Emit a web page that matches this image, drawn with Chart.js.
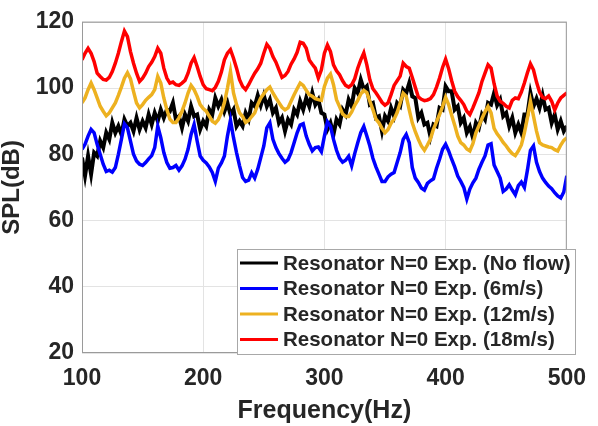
<!DOCTYPE html>
<html lang="en">
<head>
    <meta charset="UTF-8">
    <title>SPL vs Frequency</title>
    <script src="https://cdn.jsdelivr.net/npm/chart.js"></script>
    <style>
        body {
            margin: 0;
            background-color: #ffffff;
        }
    </style>
</head>
<body>
    <canvas id="myChart" width="598" height="426"></canvas>
    <script>
        // frequency grid (Hz)
        var freqHz = [
            100, 102.5, 105, 107.5, 110, 112.5, 115, 117.5, 120, 122.5,
            125, 127.5, 130, 132.5, 135, 137.5, 140, 142.5, 145, 147.5,
            150, 152.5, 155, 157.5, 160, 162.5, 165, 167.5, 170, 172.5,
            175, 177.5, 180, 182.5, 185, 187.5, 190, 192.5, 195, 197.5,
            200, 202.5, 205, 207.5, 210, 212.5, 215, 217.5, 220, 222.5,
            225, 227.5, 230, 232.5, 235, 237.5, 240, 242.5, 245, 247.5,
            250, 252.5, 255, 257.5, 260, 262.5, 265, 267.5, 270, 272.5,
            275, 277.5, 280, 282.5, 285, 287.5, 290, 292.5, 295, 297.5,
            300, 302.5, 305, 307.5, 310, 312.5, 315, 317.5, 320, 322.5,
            325, 327.5, 330, 332.5, 335, 337.5, 340, 342.5, 345, 347.5,
            350, 352.5, 355, 357.5, 360, 362.5, 365, 367.5, 370, 372.5,
            375, 377.5, 380, 382.5, 385, 387.5, 390, 392.5, 395, 397.5,
            400, 402.5, 405, 407.5, 410, 412.5, 415, 417.5, 420, 422.5,
            425, 427.5, 430, 432.5, 435, 437.5, 440, 442.5, 445, 447.5,
            450, 452.5, 455, 457.5, 460, 462.5, 465, 467.5, 470, 472.5,
            475, 477.5, 480, 482.5, 485, 487.5, 490, 492.5, 495, 497.5,
            500
        ];

        // No flow (noisy trace)
        var splNoFlow = [
            79, 73.5, 79.5, 74, 80.5, 79.5, 84, 82, 86.5, 84.5,
            89.5, 86.5, 88.5, 86, 90.5, 88.5, 89.5, 87, 91, 87.5,
            90, 88, 92, 89, 92.5, 90, 93.5, 91, 93.5, 93,
            95.5, 90.5, 91.5, 88, 92, 90, 94.5, 91.5, 92, 87.5,
            90, 88.5, 93.5, 92, 97, 94.5, 96.5, 93, 95.5, 92,
            93.5, 88.5, 90, 88.5, 92.5, 90.5, 95.5, 94.5, 97.8, 94.8,
            97.8, 94.5, 96.5, 92.5, 94, 89.5, 91, 87, 90.5, 89,
            93.5, 92, 96, 93.5, 97, 94.5, 98.5, 95, 96.5, 92.5,
            92, 87.5, 89.5, 86, 90.5, 89, 93.5, 92, 96.5, 94.5,
            100, 98.5, 102.5, 99.5, 100.5, 95, 95.5, 91, 91.5, 87,
            91.5, 90, 94, 91.5, 95.5, 94.5, 99.5, 98.5, 101.5, 97.5,
            97, 91, 92.5, 89, 89.5, 85.3, 89, 88.5, 94, 93.5,
            100.5, 99, 99, 93.5, 94.5, 89.5, 91, 86.5, 88.3, 85,
            89.5, 88, 92, 90.5, 95.5, 95, 98.5, 94.8, 96.5, 91.5,
            92.5, 88.5, 91, 86.5, 89, 86.5, 92, 92, 98.5, 94.5,
            96.8, 94, 97.8, 93.5, 94, 89.5, 92, 87.5, 90, 87,
            88.5
        ];

        // 6 m/s
        var spl6 = [
            81.5, 83, 85.5, 87.5, 86.5, 83, 80, 77, 74.8, 75.2,
            74.6, 76, 80, 84.5, 89.2, 88, 84, 80, 78, 77,
            76.6, 77.5, 78.6, 79.6, 82, 88.5, 85, 80.5, 77.5, 75.8,
            76, 76.6, 75.2, 76.5, 78.5, 81.5, 86, 89, 84, 79.5,
            78.2, 77.4, 76.2, 74.5, 71.8, 75.8, 77.4, 79.5, 85.5, 90.3,
            85, 80.5, 76.5, 73, 71.8, 72.2, 74.4, 72.8, 75.5, 79,
            82.5, 88, 89.5, 84.5, 82, 80.2, 78.8, 77.6, 78.4, 80.5,
            83.5, 86.5, 88.8, 89.2, 85.5, 83, 81, 82, 82.2, 80.8,
            85.5, 89.8, 88.5, 84.5, 81.2, 78.8, 77.6, 78.2, 79.4, 76.5,
            80.2, 83.5, 86.5, 88.4, 85.5, 82.5, 78.8, 76.2, 74, 71.8,
            71.8, 73.2, 74, 74.5, 77.5, 80.5, 84.5, 86, 83.5, 76,
            72.8, 71.5, 69.8, 69.2, 71.2, 72, 72.6, 75.8, 78.5, 81.5,
            83, 81, 78.5, 76.2, 73.4, 71.8, 70, 66.5, 69.5, 71.4,
            72.8, 75.5, 77.6, 79.5, 82.8, 83.2, 76.8, 74.8, 72.8, 68.8,
            69.5, 70.8, 69.2, 67.8, 70.5, 71.6, 70, 75.2, 81.2, 82.5,
            77.6, 74.8, 72.8, 71.5, 70.4, 69.6, 68.4, 67.4, 66.8, 68.6,
            73.5
        ];

        // 12 m/s
        var spl12 = [
            95.5, 97, 99.5, 101.5, 99.5, 97, 94.5, 93, 91.6, 92.5,
            94, 95.5, 97.8, 100.3, 103, 104.6, 102.8, 99, 95.5, 94,
            95, 96.3, 97.2, 98, 99.5, 103.5, 101.5, 97, 93.5, 90.6,
            89.6, 89.6, 91, 93, 95.5, 98.5, 100.8, 99.5, 97.5, 95,
            93.8, 93, 91.5, 90, 89.4, 90.5, 92.6, 95.6, 100, 105,
            98.5, 95, 92.5, 91.4, 89.6, 90.2, 91.4, 92.5, 95, 97,
            98.3, 99.5, 100.3, 98.5, 97, 95.6, 94.2, 93.4, 94, 96,
            98, 99.8, 101.5, 100.8, 99.3, 98, 97.5, 96.8, 96.5, 96.3,
            100.5, 103, 104.2, 101, 96.5, 94.4, 92.2, 91.4, 91.4, 92.8,
            94.8, 96.3, 98.2, 99.3, 98.6, 96, 93.5, 90.6, 89.5, 87.8,
            86.5, 87.5, 89.4, 90.6, 92.6, 95.5, 98.4, 97.5, 93.4, 89.5,
            86.8, 84.5, 82.5, 81.2, 82.8, 84.6, 87.6, 89.8, 92, 94.4,
            97.2, 95, 91.8, 88.8, 85.5, 83.5, 82.8, 81.6, 81, 83.2,
            86.5, 88.6, 90.8, 92.8, 94.4, 92.5, 87.8, 86.2, 85, 83.6,
            82.5, 81.2, 80.2, 79.6, 81, 82.8, 86.5, 91, 96, 91.5,
            87, 83.5, 82.8, 82.5, 82.2, 82, 81.4, 81, 82.8, 84.2,
            85
        ];

        // 18 m/s
        var spl18 = [
            108.5, 110.5, 112, 110.5, 108, 104.5, 103.5, 102.6, 102.4, 103.2,
            105, 107.5, 110.5, 114, 117.2, 115.5, 111, 107.5, 104.5, 102,
            103, 104.5, 106.5, 107.8, 109.5, 112, 110.5, 106, 103, 101.5,
            101.8, 101, 100.8, 101.5, 102.3, 104.5, 107.5, 109.2, 106.5, 103.5,
            101, 99.8, 99.5, 99.2, 100.2, 102, 104.8, 108.5, 110.5, 111.6,
            109, 106, 102.5, 100.5, 99.5, 101, 102.8, 104.5, 105.8, 107.5,
            110.5, 113.2, 112, 109.5, 107.8, 105.5, 103.2, 103.8, 105, 107.2,
            108.8, 110.8, 113.8, 113.5, 112, 108.5, 107.2, 106, 103, 105.5,
            110.5, 113, 111, 107, 105.2, 104, 102.2, 100.8, 100.3, 101,
            102.8, 106, 108.5, 110.6, 107, 102.5, 99.8, 98.6, 97.2, 95.7,
            94.8, 95.5, 98, 100.8, 102.2, 103.6, 107.5, 106.5, 106, 103.2,
            100.2, 97.3, 96.6, 96.2, 96.4, 96.8, 98, 100.3, 103, 106.2,
            108.7, 105.8, 102.2, 99, 97.4, 96.3, 95, 93, 92, 94,
            96.3, 98.6, 102, 104.5, 107, 106, 101.3, 97.6, 96, 95.4,
            94.5, 94, 96.3, 97, 96.8, 98.8, 101.5, 104.6, 107.3, 105.5,
            101.8, 98.8, 97.2, 96.8, 97.6, 96, 93.4, 95.5, 97, 97.8,
            98.5
        ];

        var seriesLabels = [
            'Resonator N=0 Exp. (No flow)',
            'Resonator N=0 Exp. (6m/s)',
            'Resonator N=0 Exp. (12m/s)',
            'Resonator N=0 Exp. (18m/s)'
        ];
        var seriesColors = ['#000000', '#0000ff', '#edb120', '#ff0000'];
        var seriesValues = [splNoFlow, spl6, spl12, spl18];

        var xTicks = [100, 200, 300, 400, 500];
        var yTicks = [20, 40, 60, 80, 100, 120];

        var fontFam = '"Liberation Sans", Arial, Helvetica, sans-serif';
        var textColor = '#262626';

        function toPoints(vals) {
            return freqHz.map(function (f, i) { return { x: f, y: vals[i] }; });
        }

        // legend box inside the axes + box frame (MATLAB style)
        var boxLegend = {
            id: 'boxLegend',
            afterDatasetsDraw: function (chart) {
                var ctx = chart.ctx;
                var a = chart.chartArea;
                ctx.save();
                ctx.strokeStyle = '#9a9a9a';
                ctx.lineWidth = 1;
                ctx.strokeRect(a.left + 0.5, a.top + 0.5, a.right - a.left - 1, a.bottom - a.top - 1);

                // legend
                var lx = 237, ly = 249, lw = 339, lh = 106;
                ctx.fillStyle = '#ffffff';
                ctx.fillRect(lx, ly, lw, lh);
                ctx.strokeStyle = '#a8a8a8';
                ctx.strokeRect(lx + 0.5, ly + 0.5, lw - 1, lh - 1);

                ctx.font = 'bold 20.5px ' + fontFam;
                ctx.textBaseline = 'middle';
                ctx.textAlign = 'left';
                for (var i = 0; i < seriesLabels.length; i++) {
                    var yy = 263 + i * 25.5;
                    ctx.strokeStyle = seriesColors[i];
                    ctx.lineWidth = 3;
                    ctx.beginPath();
                    ctx.moveTo(lx + 3, yy);
                    ctx.lineTo(lx + 41, yy);
                    ctx.stroke();
                    ctx.fillStyle = textColor;
                    ctx.fillText(seriesLabels[i], lx + 46, yy + 1);
                }
                ctx.restore();
            }
        };

        var ctx = document.getElementById('myChart').getContext('2d');
        var myChart = new Chart(ctx, {
            type: 'line',
            data: {
                datasets: seriesLabels.map(function (lab, i) {
                    return {
                        label: lab,
                        data: toPoints(seriesValues[i]),
                        borderColor: seriesColors[i],
                        borderWidth: i === 0 ? 4 : 3.5,
                        pointRadius: 0,
                        tension: 0,
                        fill: false,
                        order: 4 - i // red on top
                    };
                })
            },
            options: {
                responsive: false,
                animation: false,
                layout: { padding: { top: 15, right: 20, left: 0, bottom: 0 } },
                plugins: {
                    legend: { display: false },
                    tooltip: { enabled: false }
                },
                scales: {
                    x: {
                        type: 'linear',
                        min: 100,
                        max: 500,
                        afterBuildTicks: function (s) { s.ticks = xTicks.map(function (v) { return { value: v }; }); },
                        afterFit: function (s) { s.height = 73; },
                        ticks: {
                            color: textColor,
                            padding: 12,
                            maxRotation: 0,
                            font: { family: fontFam, size: 23, weight: 'bold' }
                        },
                        grid: { color: '#e3e3e3', drawTicks: false },
                        border: { display: false },
                        title: {
                            display: true,
                            text: 'Frequency(Hz)',
                            color: textColor,
                            padding: 0,
                            font: { family: fontFam, size: 25, weight: 'bold' }
                        }
                    },
                    y: {
                        min: 20,
                        max: 120,
                        afterBuildTicks: function (s) { s.ticks = yTicks.map(function (v) { return { value: v }; }); },
                        afterFit: function (s) { s.width = 82; },
                        ticks: {
                            color: textColor,
                            padding: 8,
                            font: { family: fontFam, size: 23, weight: 'bold' }
                        },
                        grid: { color: '#e3e3e3', drawTicks: false },
                        border: { display: false },
                        title: {
                            display: true,
                            text: 'SPL(dB)',
                            color: textColor,
                            padding: 0,
                            font: { family: fontFam, size: 24, weight: 'bold', lineHeight: 1 }
                        }
                    }
                }
            },
            plugins: [boxLegend]
        });
    </script>
</body>
</html>
